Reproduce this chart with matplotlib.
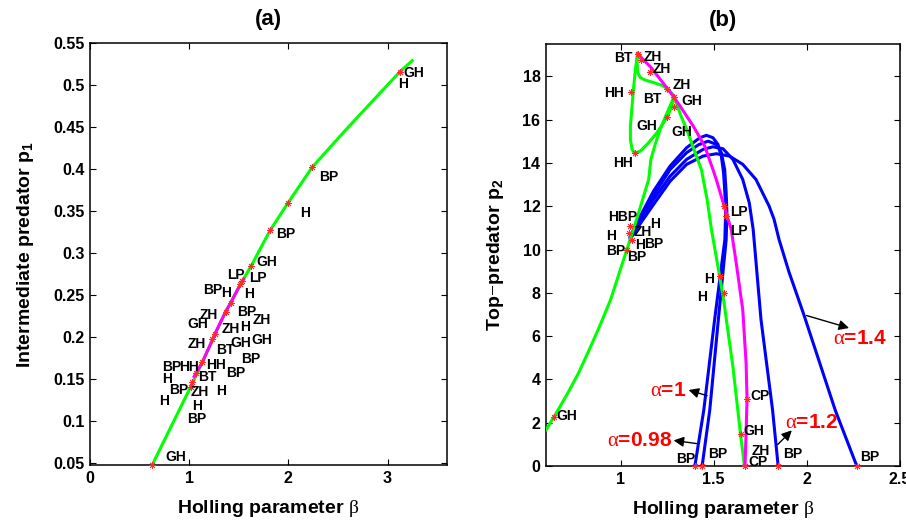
import matplotlib
matplotlib.use("Agg")
import matplotlib.pyplot as plt

plt.rcParams['font.family'] = ['Liberation Sans', 'DejaVu Sans']
plt.rcParams['mathtext.fontset'] = 'custom'
plt.rcParams['mathtext.rm'] = 'Liberation Serif'
plt.rcParams['mathtext.it'] = 'Liberation Serif:italic'
plt.rcParams['mathtext.bf'] = 'Liberation Sans:bold'

# ---------------- panel (a) data ----------------
a_green_x = [0.627, 0.833, 1.033, 1.133, 1.233, 1.367, 1.533, 1.627, 1.717, 1.817, 1.993, 2.24, 2.567, 2.85, 3.127, 3.25]
a_green_y = [0.0476, 0.097, 0.145, 0.170, 0.196, 0.230, 0.266, 0.285, 0.305, 0.327, 0.359, 0.402, 0.445, 0.481, 0.516, 0.529]
a_mag_x = [1.05, 1.133, 1.233, 1.26, 1.367, 1.417, 1.517, 1.55]
a_mag_y = [0.153, 0.170, 0.196, 0.204, 0.230, 0.240, 0.263, 0.269]
a_mark_x = [1.627, 1.533, 1.517, 1.417, 1.367, 1.26, 1.233, 1.133, 1.067, 1.033, 1.017, 0.627, 1.817, 1.993, 2.24, 3.127]
a_mark_y = [0.285, 0.267, 0.263, 0.240, 0.230, 0.204, 0.198, 0.170, 0.157, 0.147, 0.141, 0.0476, 0.327, 0.359, 0.402, 0.516]
a_lab_text = ["GH", "LP", "LP", "BP", "H", "H", "BP", "ZH", "ZH", "GH", "ZH", "H", "ZH", "GH", "GH",
              "BT", "BP", "BP", "HH", "HH", "BP", "H", "BT", "BP", "ZH", "H", "H", "H", "BP", "GH",
              "GH", "H", "BP", "H", "BP"]
a_lab_x = [1.78, 1.467, 1.69, 1.24, 1.373, 1.603, 1.583, 1.20, 1.733, 1.083, 1.417, 1.567, 1.073, 1.517, 1.733,
           1.367, 1.617, 0.827, 1.0, 1.267, 1.467, 0.773, 1.183, 0.893, 1.107, 1.317, 0.75, 1.083, 1.077, 0.867,
           3.267, 3.153, 2.407, 2.173, 1.977]
a_lab_y = [0.289, 0.274, 0.270, 0.256, 0.252, 0.251, 0.230, 0.226, 0.220, 0.215, 0.209, 0.212, 0.192, 0.193, 0.196,
           0.185, 0.174, 0.164, 0.164, 0.167, 0.157, 0.150, 0.152, 0.137, 0.134, 0.136, 0.124, 0.118, 0.102, 0.0575,
           0.514, 0.501, 0.391, 0.348, 0.323]
a_xticks = [0, 1, 2, 3]
a_yticks = [0.05, 0.1, 0.15, 0.2, 0.25, 0.3, 0.35, 0.4, 0.45, 0.5, 0.55]
a_ytick_labels = ["0.05", "0.1", "0.15", "0.2", "0.25", "0.3", "0.35", "0.4", "0.45", "0.5", "0.55"]

# ---------------- panel (b) data ----------------
b_greenA_x = [0.60, 0.645, 0.717, 0.775, 0.832, 0.89, 0.947, 1.0, 1.053, 1.097, 1.151, 1.163, 1.186, 1.213, 1.239, 1.266, 1.287]
b_greenA_y = [1.67, 2.3, 3.37, 4.3, 5.37, 6.5, 7.69, 9.1, 10.5, 11.70, 13.24, 14.17, 14.86, 15.56, 16.1, 16.64, 17.07]
b_greenB_x = [1.287, 1.305, 1.328, 1.355, 1.387, 1.417, 1.434, 1.465, 1.488, 1.532, 1.553, 1.603, 1.644, 1.665]
b_greenB_y = [17.07, 16.64, 16.1, 15.56, 14.79, 14.09, 13.70, 12.3, 10.93, 8.76, 7.69, 4.6, 1.48, 0.0]
b_loop_x = [1.092, 1.089, 1.080, 1.071, 1.062, 1.053, 1.053, 1.062, 1.076, 1.106, 1.151, 1.195, 1.231, 1.257, 1.275, 1.287]
b_loop_y = [19.06, 18.95, 18.33, 17.56, 16.64, 15.71, 15.09, 14.63, 14.44, 14.55, 14.94, 15.40, 15.86, 16.25, 16.64, 17.07]
b_branch_x = [1.092, 1.089, 1.092, 1.106, 1.133, 1.177, 1.222, 1.252, 1.275, 1.287]
b_branch_y = [19.06, 18.64, 18.18, 17.95, 17.83, 17.72, 17.59, 17.44, 17.22, 17.07]
b_mag_x = [1.092, 1.124, 1.16, 1.213, 1.275, 1.319, 1.39, 1.452, 1.496, 1.514, 1.567, 1.594, 1.621, 1.656, 1.674, 1.679, 1.674, 1.668]
b_mag_y = [19.06, 18.76, 18.45, 17.87, 17.18, 16.64, 15.71, 14.78, 13.70, 13.24, 11.70, 10.93, 9.38, 7.22, 4.75, 3.10, 1.51, 0.0]

blue_098_x = [1.053, 1.106, 1.177, 1.266, 1.355, 1.426, 1.461, 1.496, 1.523, 1.541, 1.553, 1.560, 1.564, 1.560, 1.505, 1.447, 1.399]
blue_098_y = [10.62, 11.54, 12.70, 13.86, 14.71, 15.17, 15.28, 15.17, 14.86, 14.32, 13.55, 12.62, 11.70, 10.46, 6.76, 2.59, 0.0]
blue_1_x = [1.053, 1.106, 1.177, 1.266, 1.355, 1.42, 1.47, 1.514, 1.541, 1.559, 1.567, 1.571, 1.567, 1.525, 1.479, 1.438]
blue_1_y = [10.58, 11.4, 12.5, 13.70, 14.48, 14.85, 15.01, 14.86, 14.48, 13.70, 12.62, 11.70, 10.46, 6.76, 2.59, 0.0]
blue_12_x = [1.053, 1.106, 1.177, 1.266, 1.355, 1.443, 1.496, 1.55, 1.603, 1.656, 1.691, 1.712, 1.754, 1.816, 1.846]
blue_12_y = [10.55, 11.3, 12.31, 13.39, 14.17, 14.63, 14.75, 14.66, 14.17, 13.24, 12.16, 10.93, 6.76, 2.59, 0.0]
blue_14_x = [1.053, 1.106, 1.177, 1.266, 1.355, 1.443, 1.514, 1.585, 1.656, 1.727, 1.798, 1.824, 1.851, 1.904, 1.984, 2.152, 2.268]
blue_14_y = [10.5, 11.2, 12.08, 13.16, 13.94, 14.32, 14.43, 14.32, 13.94, 13.24, 12.0, 11.4, 10.46, 8.97, 6.99, 2.59, 0.0]

b_mark_x = [0.645, 1.053, 1.044, 1.062, 1.036, 1.553, 1.567, 1.532, 1.555, 1.679, 1.644, 1.399, 1.438, 1.668, 1.846, 2.268,
            1.092, 1.112, 1.156, 1.252, 1.287, 1.289, 1.252, 1.057, 1.076]
b_mark_y = [2.25, 11.08, 10.77, 10.46, 10.0, 12.0, 11.57, 8.76, 8.0, 3.10, 1.48, 0.0, 0.0, 0.0, 0.0, 0.0,
            19.06, 18.77, 18.21, 17.44, 17.07, 16.6, 16.14, 17.30, 14.48]
b_lab_text = ["BT", "ZH", "ZH", "ZH", "HH", "BT", "GH", "GH", "GH", "HH",
              "HBP", "H", "ZH", "H", "H", "BP", "BP", "BP", "LP", "LP", "H", "H",
              "CP", "GH", "ZH", "CP", "BP", "BP", "BP", "BP", "GH"]
b_lab_x = [1.014, 1.174, 1.222, 1.328, 0.965, 1.169, 1.381, 1.142, 1.328, 1.014,
           1.014, 1.186, 1.12, 0.95, 1.103, 1.181, 0.973, 1.089, 1.635, 1.635, 1.475, 1.438,
           1.75, 1.714, 1.754, 1.736, 1.351, 1.523, 1.922, 2.339, 0.713]
b_lab_y = [18.83, 18.92, 18.33, 17.6, 17.25, 16.98, 16.87, 15.71, 15.45, 14.01,
           11.51, 11.16, 10.8, 10.65, 10.19, 10.26, 9.92, 9.66, 11.74, 10.85, 8.66, 7.81,
           3.24, 1.63, 0.71, 0.17, 0.31, 0.54, 0.54, 0.43, 2.31]
alpha_text = [r"$\mathrm{\alpha}$=0.98", r"$\mathrm{\alpha}$=1", r"$\mathrm{\alpha}$=1.2", r"$\mathrm{\alpha}$=1.4"]
alpha_text_x = [1.103, 1.257, 2.028, 2.285]
alpha_text_y = [1.16, 3.49, 2.0, 5.87]
alpha_tail_x = [1.422, 1.479, 1.833, 1.984]
alpha_tail_y = [1.02, 3.21, 0.9, 6.99]
alpha_head_x = [1.27, 1.351, 1.93, 2.241]
alpha_head_y = [1.2, 3.55, 1.74, 6.34]
b_xticks = [1, 1.5, 2, 2.5]
b_xtick_labels = ["1", "1.5", "2", "2.5"]
b_yticks = [0, 2, 4, 6, 8, 10, 12, 14, 16, 18]

W, H = 906, 523
fig = plt.figure(figsize=(W / 100, H / 100), dpi=100)
axa = fig.add_axes([90 / W, 1 - 465 / H, (447 - 90) / W, (465 - 43) / H])
axb = fig.add_axes([546 / W, 1 - 466 / H, (900 - 546) / W, (466 - 44) / H])

GREEN = '#00ff00'
MAG = '#ff00ff'
BLUE = '#0000ff'
LW = 2.2
mk = dict(marker=(8, 2, 0), ms=5, mew=0.6, color='#ff2a2a', ls='none', zorder=5)
labfont = dict(fontsize=10, fontweight='bold', ha='center', va='center', color='black', zorder=6)

# panel a
axa.plot(a_green_x, a_green_y, color=GREEN, lw=LW, zorder=2)
axa.plot(a_mag_x, a_mag_y, color=MAG, lw=LW, zorder=3)
axa.plot(a_mark_x, a_mark_y, clip_on=False, **mk)
for t, x, y in zip(a_lab_text, a_lab_x, a_lab_y):
    axa.text(x, y, t, **labfont)
axa.set_xlim(0, 3.6)
axa.set_ylim(0.0476, 0.55)
axa.set_xticks(a_xticks)
axa.set_xticklabels([str(v) for v in a_xticks])
axa.set_yticks(a_yticks)
axa.set_yticklabels(a_ytick_labels)
axa.set_title("(a)", fontsize=16, fontweight='bold', pad=13)
axa.set_xlabel(r"Holling parameter $\mathrm{\beta}$", fontsize=14, fontweight='bold', labelpad=9)
axa.set_ylabel(r"Intermediate predator $\mathbf{p_1}$", fontsize=14, fontweight='bold', labelpad=12)

# panel b
for bx, by in [(blue_098_x, blue_098_y), (blue_1_x, blue_1_y), (blue_12_x, blue_12_y), (blue_14_x, blue_14_y)]:
    axb.plot(bx, by, color=BLUE, lw=LW, zorder=2)
for gx, gy in [(b_greenA_x, b_greenA_y), (b_greenB_x, b_greenB_y), (b_loop_x, b_loop_y), (b_branch_x, b_branch_y)]:
    axb.plot(gx, gy, color=GREEN, lw=LW, zorder=3)
axb.plot(b_mag_x, b_mag_y, color=MAG, lw=LW, zorder=4)
axb.plot(b_mark_x, b_mark_y, clip_on=False, **mk)
for t, x, y in zip(b_lab_text, b_lab_x, b_lab_y):
    axb.text(x, y, t, **labfont)
for t, tx, ty, x0, y0, x1, y1 in zip(alpha_text, alpha_text_x, alpha_text_y,
                                       alpha_tail_x, alpha_tail_y, alpha_head_x, alpha_head_y):
    axb.text(tx, ty, t, fontsize=15, fontweight='bold', color='red', ha='center', va='center', zorder=7)
    axb.annotate("", xy=(x1, y1), xytext=(x0, y0),
                 arrowprops=dict(arrowstyle='-|>', color='black', lw=1.0, mutation_scale=15), zorder=7)
axb.set_xlim(0.6, 2.5)
axb.set_ylim(0, 19.5)
axb.set_xticks(b_xticks)
axb.set_xticklabels(b_xtick_labels)
axb.set_yticks(b_yticks)
axb.set_title("(b)", fontsize=16, fontweight='bold', pad=13)
axb.set_xlabel(r"Holling parameter $\mathrm{\beta}$", fontsize=14, fontweight='bold', labelpad=9)
axb.set_ylabel(r"Top$-$predator $\mathbf{p_2}$", fontsize=14, fontweight='bold', labelpad=12)

for ax in (axa, axb):
    for s in ax.spines.values():
        s.set_linewidth(1.1)
    ax.tick_params(direction='in', top=True, right=True, length=4, width=0.8, labelsize=11.5, pad=4)
    for lab in ax.get_xticklabels() + ax.get_yticklabels():
        lab.set_fontweight('bold')

fig.savefig("out.png", dpi=100)
